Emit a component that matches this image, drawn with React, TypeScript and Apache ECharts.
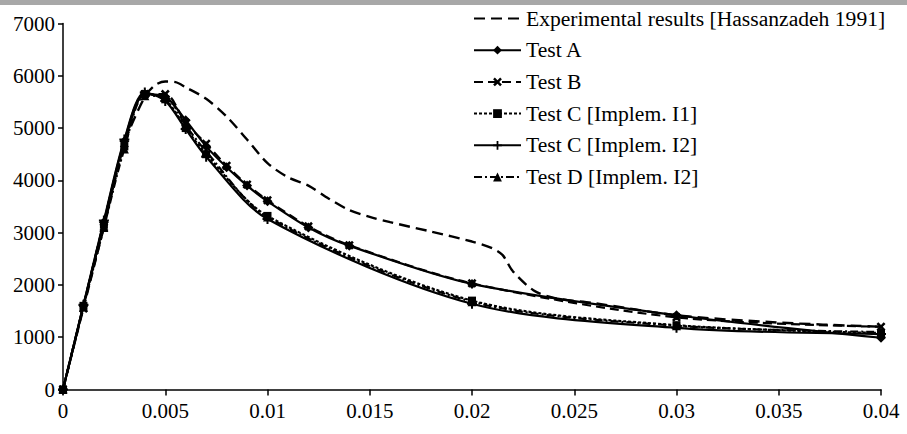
import React, { useEffect, useRef } from "react";
import * as echarts from "echarts";

const xTicks = [0, 0.005, 0.01, 0.015, 0.02, 0.025, 0.03, 0.035, 0.04];
const yTicks = [0, 1000, 2000, 3000, 4000, 5000, 6000, 7000];

const seriesNames = [
  "Experimental results [Hassanzadeh 1991]",
  "Test A",
  "Test B",
  "Test C [Implem. I1]",
  "Test C [Implem. I2]",
  "Test D [Implem. I2]",
];

const expX = [0, 0.001, 0.002, 0.003, 0.004, 0.0045, 0.005, 0.0055, 0.006, 0.007, 0.008, 0.009, 0.01, 0.011, 0.012, 0.013, 0.014, 0.015, 0.016, 0.018, 0.02, 0.021, 0.0215, 0.022, 0.023, 0.024, 0.026, 0.03, 0.035, 0.04];
const expY = [0, 1600, 3200, 4700, 5600, 5820, 5890, 5880, 5780, 5560, 5220, 4780, 4330, 4060, 3900, 3650, 3430, 3300, 3200, 3020, 2830, 2700, 2570, 2260, 1900, 1750, 1650, 1420, 1280, 1200];

const aX = [0, 0.001, 0.002, 0.003, 0.004, 0.005, 0.006, 0.007, 0.008, 0.009, 0.01, 0.012, 0.014, 0.02, 0.03, 0.04];
const aY = [0, 1600, 3200, 4750, 5650, 5600, 5150, 4650, 4250, 3900, 3600, 3100, 2750, 2020, 1420, 990];
const bY = [0, 1550, 3100, 4700, 5650, 5650, 5100, 4700, 4280, 3920, 3620, 3120, 2760, 2030, 1380, 1200];

const cX = [0, 0.001, 0.002, 0.003, 0.004, 0.005, 0.006, 0.007, 0.01, 0.02, 0.03, 0.04];
const c1Y = [0, 1600, 3150, 4650, 5650, 5550, 5000, 4500, 3320, 1700, 1230, 1080];
const c2Y = [0, 1620, 3230, 4780, 5680, 5520, 4980, 4450, 3260, 1640, 1180, 1060];
const dY = [0, 1580, 3100, 4600, 5620, 5600, 5050, 4550, 3300, 1680, 1220, 1100];

const zip = (xs: number[], ys: number[]) => xs.map((x, i) => [x, ys[i]]);

const X_SYM = "path://M2,0L5,3L8,0L10,2L7,5L10,8L8,10L5,7L2,10L0,8L3,5L0,2Z";
const PLUS_SYM = "path://M4,0H6V4H10V6H6V10H4V6H0V4H4Z";

const FONT = "Liberation Serif";

export default function App() {
  const ref = useRef<HTMLDivElement>(null);
  useEffect(() => {
    if (!ref.current) return;
    const chart = echarts.init(ref.current, undefined, { renderer: "svg" });
    const mk = (
      name: string,
      data: number[][],
      symbol: string,
      dash: any,
      width = 2,
      symbolSize = 9,
      show = true
    ) => ({
      name,
      type: "line",
      data,
      smooth: 0.3,
      symbol,
      symbolSize,
      showSymbol: show,
      lineStyle: { color: "#000", width, type: dash },
      itemStyle: { color: "#000" },
      z: 3,
    });
    chart.setOption({
      animation: false,
      backgroundColor: "#fff",
      textStyle: { fontFamily: FONT, color: "#000" },
      grid: { left: 63, right: 26, top: 23.5, bottom: 44.5, containLabel: false },
      graphic: [
        {
          type: "rect",
          shape: { x: 0, y: 0, width: 907, height: 5 },
          style: { fill: "#a8a8a8" },
          z: 10,
        },
      ],
      legend: {
        orient: "vertical",
        left: 473,
        top: 7.5,
        padding: 0,
        itemWidth: 47,
        itemHeight: 11,
        itemGap: 9.7,
        textStyle: { fontFamily: FONT, fontSize: 21.6, color: "#000", lineHeight: 21 },
        data: [
          { name: seriesNames[0], itemStyle: { opacity: 0 } },
          seriesNames[1],
          seriesNames[2],
          seriesNames[3],
          seriesNames[4],
          seriesNames[5],
        ],
        selectedMode: false,
      },
      xAxis: {
        type: "value",
        min: xTicks[0],
        max: xTicks[xTicks.length - 1],
        interval: 0.005,
        splitLine: { show: false },
        axisLine: { lineStyle: { color: "#000", width: 1.5 } },
        axisTick: { show: true, length: 6, lineStyle: { color: "#000", width: 1.5 } },
        axisLabel: {
          color: "#000",
          fontFamily: FONT,
          fontSize: 21,
          margin: 11,
          formatter: (v: number) => (v === 0 ? "0" : String(parseFloat(v.toFixed(3)))),
        },
      },
      yAxis: {
        type: "value",
        min: yTicks[0],
        max: yTicks[yTicks.length - 1],
        interval: 1000,
        splitLine: { show: false },
        axisLine: { show: true, lineStyle: { color: "#000", width: 1.5 } },
        axisTick: { show: true, length: 5, lineStyle: { color: "#000", width: 1.5 } },
        axisLabel: {
          color: "#000",
          fontFamily: FONT,
          fontSize: 21,
          margin: 8,
          formatter: (v: number) => String(Math.round(v)),
        },
      },
      series: [
        mk(seriesNames[0], zip(expX, expY), "circle", [11, 6], 2.4, 1, false),
        mk(seriesNames[1], zip(aX, aY), "diamond", "solid", 2.2, 10),
        mk(seriesNames[2], zip(aX, bY), X_SYM, [9, 5], 2.2, 9),
        mk(seriesNames[3], zip(cX, c1Y), "rect", [3, 2], 2.2, 8),
        mk(seriesNames[4], zip(cX, c2Y), PLUS_SYM, "solid", 2.2, 10),
        mk(seriesNames[5], zip(cX, dY), "triangle", [8, 3, 2, 3], 2.2, 9),
      ],
    });
    return () => chart.dispose();
  }, []);
  return (
    <div
      ref={ref}
      style={{ position: "fixed", left: 0, top: 0, width: 907, height: 434, background: "#fff" }}
    />
  );
}
